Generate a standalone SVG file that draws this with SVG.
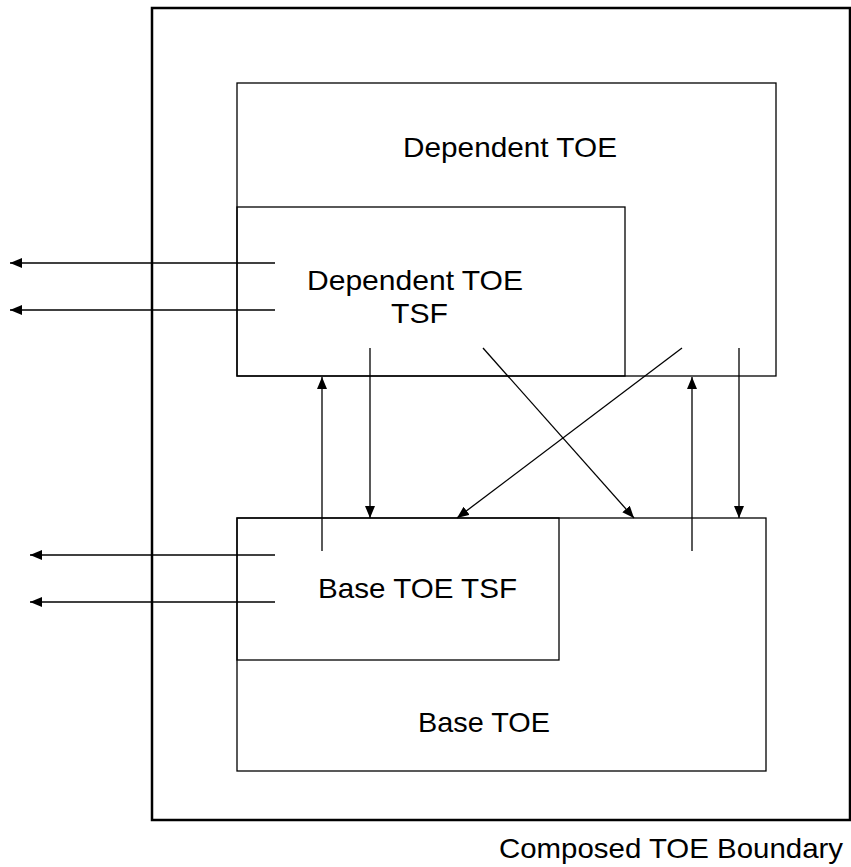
<svg xmlns="http://www.w3.org/2000/svg" width="851" height="867" viewBox="0 0 851 867">
<style>
.box{fill:none;stroke:#000;stroke-width:1.3}
.outer{fill:none;stroke:#000;stroke-width:2.5}
.c{stroke:#000;stroke-width:1.3;fill:none;marker-end:url(#ah)}
text{font-family:"Liberation Sans",Arial,sans-serif;font-size:28px;fill:#000}
</style>
<defs>
<marker id="ah" markerWidth="12" markerHeight="10" refX="12" refY="5" orient="auto" markerUnits="userSpaceOnUse">
<path d="M0,0 L12,5 L0,10 z" fill="#000"/>
</marker>
</defs>
<rect width="851" height="867" fill="#fff"/>
<g id="composed">
<rect class="outer" x="152" y="8" width="698" height="812"/>
<text x="499" y="858" textLength="344" lengthAdjust="spacingAndGlyphs">Composed TOE Boundary</text>
</g>
<g id="dependent-toe">
<rect class="box" x="237" y="83" width="539" height="293"/>
<text x="403" y="157" textLength="214" lengthAdjust="spacingAndGlyphs">Dependent TOE</text>
</g>
<g id="dependent-tsf">
<rect class="box" x="237" y="207" width="388" height="169"/>
<text x="307" y="290" textLength="216" lengthAdjust="spacingAndGlyphs">Dependent TOE</text>
<text x="391" y="323" textLength="57" lengthAdjust="spacingAndGlyphs">TSF</text>
</g>
<g id="base-toe">
<rect class="box" x="237" y="518" width="529" height="253"/>
<text x="418" y="732" textLength="132" lengthAdjust="spacingAndGlyphs">Base TOE</text>
</g>
<g id="base-tsf">
<rect class="box" x="237" y="518" width="322" height="142"/>
<text x="318" y="598" textLength="199" lengthAdjust="spacingAndGlyphs">Base TOE TSF</text>
</g>
<g id="connectors">
<line class="c" x1="275" y1="263" x2="10" y2="263"/>
<line class="c" x1="275" y1="310" x2="10" y2="310"/>
<line class="c" x1="275" y1="555" x2="30" y2="555"/>
<line class="c" x1="275" y1="602" x2="30" y2="602"/>
<line class="c" x1="322" y1="551" x2="322" y2="377"/>
<line class="c" x1="370" y1="348" x2="370" y2="518"/>
<line class="c" x1="483" y1="348" x2="634" y2="518"/>
<line class="c" x1="682" y1="348" x2="457" y2="518"/>
<line class="c" x1="692" y1="551" x2="692" y2="377"/>
<line class="c" x1="739" y1="348" x2="739" y2="518"/>
</g>
</svg>
